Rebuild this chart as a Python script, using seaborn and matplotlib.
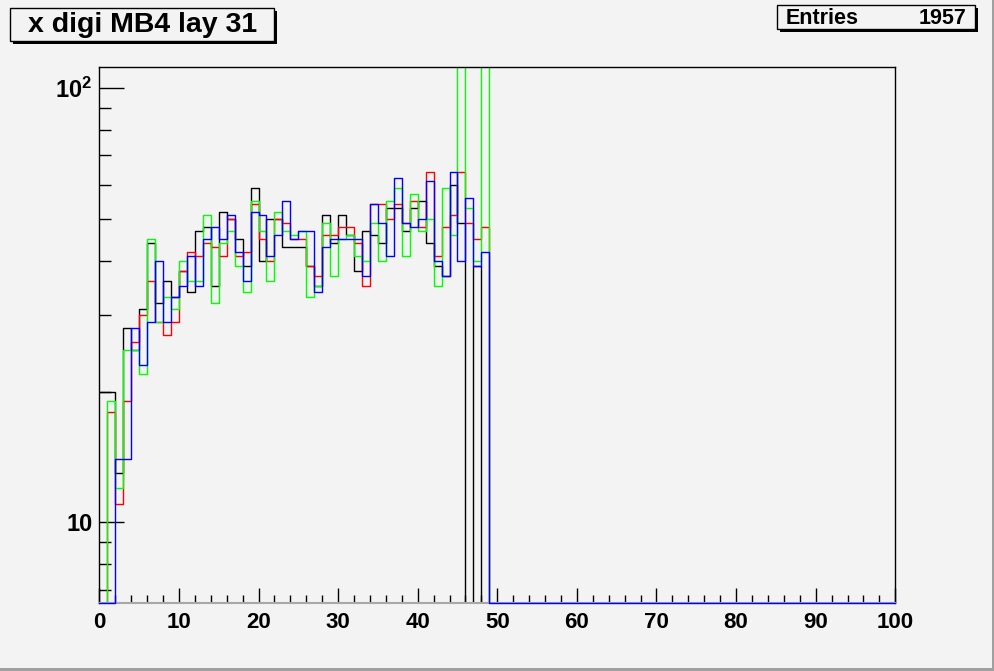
import numpy as np
import matplotlib
matplotlib.use("Agg")
import matplotlib.pyplot as plt
import seaborn as sns
from matplotlib.patches import Rectangle
from matplotlib.ticker import FixedLocator, NullFormatter


TITLE = "x digi MB4 lay 31"
ENTRIES = 1957

BIN_EDGES = list(range(0, 101))
BIN_CENTERS = [b + 0.5 for b in range(0, 49)]

BLACK_COUNTS = [20, 20, 13, 28, 25, 31, 44, 32, 36, 33,
                38, 34, 47, 48, 35, 52, 50, 45, 39, 59,
                40, 50, 50, 43, 43, 43, 39, 35, 51, 44,
                51, 46, 38, 47, 46, 44, 53, 53, 47, 53,
                55, 44, 39, 37, 60, 49, 0, 39, 0]
RED_COUNTS = [0, 18, 11, 19, 26, 30, 36, 29, 27, 29,
              38, 42, 41, 44, 43, 41, 50, 41, 42, 54,
              45, 40, 50, 49, 45, 45, 39, 37, 46, 46,
              48, 48, 44, 35, 54, 54, 50, 54, 49, 55,
              48, 64, 41, 48, 51, 64, 49, 45, 48]
GREEN_COUNTS = [0, 19, 12, 25, 25, 22, 45, 29, 33, 31,
                40, 36, 36, 51, 32, 44, 47, 39, 34, 55,
                47, 36, 52, 47, 46, 47, 33, 35, 49, 37,
                45, 46, 41, 40, 49, 40, 55, 59, 41, 57,
                47, 50, 35, 59, 46, 150, 53, 40, 150]
BLUE_COUNTS = [0, 0, 14, 14, 28, 23, 29, 40, 29, 33,
               35, 41, 35, 45, 48, 45, 51, 42, 36, 52,
               51, 41, 46, 55, 45, 47, 47, 34, 43, 45,
               45, 45, 45, 37, 54, 49, 41, 62, 49, 48,
               50, 61, 40, 37, 64, 40, 56, 39, 42]

SERIES = [
    (BLACK_COUNTS, "#000000"),
    (RED_COUNTS, "#ff0000"),
    (GREEN_COUNTS, "#00ff00"),
    (BLUE_COUNTS, "#0000ff"),
]

X_TICKS = [0, 10, 20, 30, 40, 50, 60, 70, 80, 90, 100]
Y_TICKS = [10, 100]
Y_TICK_LABELS = ["10", r"$\mathbf{10^{2}}$"]
Y_MIN, Y_MAX = 6.53, 112.1

BG = "#f3f3f3"
W, H = 995, 671

sns.set_style("white")
plt.rcParams["font.family"] = ["Liberation Sans", "DejaVu Sans"]
plt.rcParams["font.weight"] = "bold"
plt.rcParams["text.color"] = "black"
plt.rcParams["mathtext.fontset"] = "custom"
plt.rcParams["mathtext.bf"] = "Liberation Sans:bold"
plt.rcParams["mathtext.rm"] = "Liberation Sans:bold"


def fig_rect(x0, y0, x1, y1):
    # pixel box (top-left origin) -> figure fraction
    return [x0 / W, 1 - y1 / H, (x1 - x0) / W, (y1 - y0) / H]


def draw_box(fig, x0, y0, x1, y1, shadow=3):
    fig.patches.append(Rectangle(((x0 + shadow) / W, 1 - (y1 + shadow) / H),
                                 (x1 - x0) / W, (y1 - y0) / H,
                                 transform=fig.transFigure, facecolor="black",
                                 edgecolor="none", zorder=1))
    fig.patches.append(Rectangle((x0 / W, 1 - y1 / H), (x1 - x0) / W, (y1 - y0) / H,
                                 transform=fig.transFigure, facecolor=BG,
                                 edgecolor="black", linewidth=1.0, zorder=2))


fig = plt.figure(figsize=(W / 100, H / 100), dpi=100, facecolor=BG)
ax = fig.add_axes(fig_rect(99.3, 66.7, 895.3, 602.7))
ax.set_facecolor(BG)
ax.set_yscale("log")

for counts, color in SERIES:
    sns.histplot(x=BIN_CENTERS, weights=counts, bins=BIN_EDGES,
                 element="step", fill=False, color=color,
                 linewidth=1.0, ax=ax)

# like ROOT, the last drawn histogram shows its empty bins on the frame bottom
last = ax.lines[-1]
ys = np.asarray(last.get_ydata(), dtype=float)
last.set_ydata(np.where(ys > 0, ys, Y_MIN))
last.set_zorder(3)
last.set_clip_on(False)

ax.set_xlim(0, 100)
ax.set_ylim(Y_MIN, Y_MAX)
ax.set_xlabel("")
ax.set_ylabel("")

# ROOT-like ticks: inside, bottom and left only
ax.xaxis.set_major_locator(FixedLocator(X_TICKS))
ax.xaxis.set_minor_locator(FixedLocator(np.arange(0, 101, 2)))
ax.set_xticklabels([str(t) for t in X_TICKS])
ax.yaxis.set_major_locator(FixedLocator(Y_TICKS))
ax.yaxis.set_minor_locator(FixedLocator([7, 8, 9, 20, 30, 40, 50, 60, 70, 80, 90]))
ax.set_yticklabels(Y_TICK_LABELS)
ax.yaxis.set_minor_formatter(NullFormatter())

ax.tick_params(axis="x", which="major", direction="in", length=11, width=1,
               labelsize=16, pad=7, bottom=True, top=False, color="black",
               labelcolor="black")
ax.tick_params(axis="x", which="minor", direction="in", length=5.5, width=1,
               bottom=True, top=False, color="black")
ax.tick_params(axis="y", which="major", direction="in", length=17.8, width=1,
               labelsize=17, pad=5, left=True, right=False, color="black",
               labelcolor="black")
ax.tick_params(axis="y", which="minor", direction="in", length=8.9, width=1,
               left=True, right=False, color="black")
for lab in ax.get_xticklabels() + ax.get_yticklabels():
    lab.set_fontweight("bold")

for side in ["top", "right", "left"]:
    ax.spines[side].set_color("black")
    ax.spines[side].set_linewidth(1.0)
ax.spines["bottom"].set_color("#a8a8a8")
ax.spines["bottom"].set_linewidth(1.5)

# title and stats boxes
draw_box(fig, 10, 8, 274, 41)
fig.text(143 / W, 1 - 25 / H, TITLE, ha="center", va="center", color="black",
         fontsize=20.5, fontweight="bold", zorder=3)
draw_box(fig, 777, 5, 975, 29)
fig.text(786 / W, 1 - 18 / H, "Entries", ha="left", va="center", color="black",
         fontsize=15.5, fontweight="bold", zorder=3)
fig.text(967 / W, 1 - 18 / H, str(ENTRIES), ha="right", va="center", color="black",
         fontsize=15.5, fontweight="bold", zorder=3)

# canvas border
fig.patches.append(Rectangle((0, 0), 1, 3 / H, transform=fig.transFigure,
                             facecolor="#a0a0a0", edgecolor="none"))
fig.patches.append(Rectangle((1 - 3 / W, 0), 3 / W, 1, transform=fig.transFigure,
                             facecolor="#a0a0a0", edgecolor="none"))

fig.savefig("out.png", dpi=100, facecolor=BG)
